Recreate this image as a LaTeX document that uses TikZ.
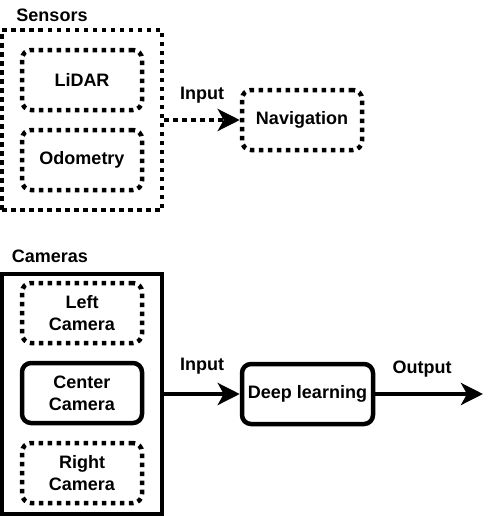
\documentclass[tikz,border=0pt]{standalone}
\usepackage{fontspec}
\setmainfont{Liberation Sans}
\usetikzlibrary{arrows.meta}
\tikzset{
  lbl/.style={font=\fontsize{18}{21.6}\selectfont\bfseries, inner sep=0pt},
  box/.style={draw, line width=4.5pt, rounded corners=9pt, inner sep=0pt, align=center,
    font=\fontsize{18}{21.6}\selectfont\bfseries, minimum height=60pt},
  dotbox/.style={box, dash pattern=on 4.5pt off 4.5pt},
  group/.style={draw, line width=4.5pt, inner sep=0pt},
  arr/.style={line width=4.5pt, -{Stealth[length=22pt,width=22pt,inset=6pt]}},
}
\begin{document}
\begin{tikzpicture}[x=1pt,y=-1pt]
\useasboundingbox (0,0) rectangle (493,517);
% Sensors group
\node[group, dash pattern=on 4.5pt off 4.5pt, minimum width=160pt, minimum height=180pt] (sensors) at (82,120) {};
\node[lbl] (sensorslbl) at (52,15) {Sensors};
\node[dotbox, minimum width=120pt] (lidar) at (82,80) {LiDAR};
\node[dotbox, minimum width=120pt] (odom) at (82,160) {Odometry};
\node[dotbox, minimum width=120pt] (nav) at (302,120) {Navigation};
\draw[arr, dash pattern=on 4.5pt off 4.5pt] (sensors.east) -- (nav.west);
\node[lbl] (in1) at (202,95) {Input};
% Cameras group
\node[group, minimum width=160pt, minimum height=240pt] (cams) at (82,394) {};
\node[lbl] (camslbl) at (50,256) {Cameras};
\node[dotbox, minimum width=120pt] (left) at (82,313) {Left\\Camera};
\node[box, minimum width=120pt] (center) at (82,393) {Center\\Camera};
\node[dotbox, minimum width=120pt] (right) at (82,473) {Right\\Camera};
\node[box, minimum width=131pt] (dl) at (307.5,394) {Deep learning};
\coordinate (out) at (483,394);
\draw[arr] (cams.east) -- (dl.west);
\draw[arr] (dl.east) -- (out);
\node[lbl] (in2) at (202,366) {Input};
\node[lbl] (outlbl) at (422,369) {Output};
\end{tikzpicture}
\end{document}
